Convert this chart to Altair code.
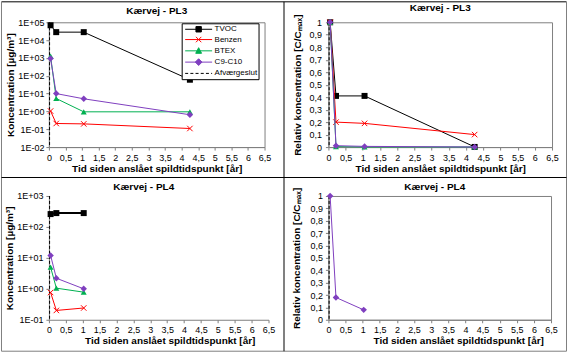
import altair as alt
import pandas as pd

# ---------------- data ----------------
series_names = ["TVOC", "Benzen", "BTEX", "C9-C10"]
series_colors = ["#000000", "#ff0000", "#00b050", "#7f3fbf"]
guide_name = "Afværgeslut"

pl3_time = [0.05, 0.22, 1.05, 4.25]
pl3_tvoc = [68000, 28000, 28000, 60]
pl3_benzen = [1.05, 0.21, 0.2, 0.11]
pl3_btex = [1250, 5.3, 0.95, 0.95]
pl3_c9c10 = [930, 10, 5.1, 0.65]

pl3_rel_tvoc = [1.0, 0.41, 0.41, 0.001]
pl3_rel_benzen = [1.0, 0.2, 0.19, 0.1]
pl3_rel_btex = [1.0, 0.004, 0.0008, 0.0008]
pl3_rel_c9c10 = [1.0, 0.011, 0.0055, 0.0007]

pl4_time = [0.05, 0.22, 1.03]
pl4_tvoc = [260, 280, 280]
pl4_benzen = [0.76, 0.2, 0.24]
pl4_btex = [5.0, 1.05, 0.78]
pl4_c9c10 = [12, 2.2, 1.0]
pl4_rel_c9c10 = [1.0, 0.18, 0.08]

afvaerge_time = [0.02]

x_tick_values = [0, 0.5, 1, 1.5, 2, 2.5, 3, 3.5, 4, 4.5, 5, 5.5, 6, 6.5]
log_ticks_pl3 = [0.01, 0.1, 1, 10, 100, 1000, 10000, 100000]
log_ticks_pl4 = [0.1, 1, 10, 100, 1000]
rel_ticks = [0, 0.1, 0.2, 0.3, 0.4, 0.5, 0.6, 0.7, 0.8, 0.9, 1]

FONT = "Liberation Sans"
X_TITLE = "Tid siden anslået spildtidspunkt [år]"
CONC_TITLE = "Koncentration [µg/m³]"
REL_TITLE = "Relativ koncentration [C/Cₘₐₓ]"
LOG_EXPR = ("'1E' + (datum.value >= 1 ? '+' : '-') + "
            "(abs(round(log(datum.value) / LN10)) < 10 ? '0' : '') + "
            "abs(round(log(datum.value) / LN10))")
COMMA_EXPR = "replace(toString(datum.value), '.', ',')"
REL_EXPR = "replace(format(datum.value, '.1~f'), '.', ',')"


def long_df(time, cols):
    rows = []
    for name, vals in cols:
        for t, v in zip(time, vals):
            rows.append({"t": t, "v": v, "s": name})
    return pd.DataFrame(rows)


markers = {
    "TVOC": dict(shape="square", filled=True, size=36),
    "Benzen": dict(shape="M-1,-1L1,1M-1,1L1,-1", filled=False, size=30, strokeWidth=1),
    "BTEX": dict(shape="triangle-up", filled=True, size=36),
    "C9-C10": dict(shape="diamond", filled=True, size=42),
}


def x_enc(title_x=None):
    kw = dict(values=x_tick_values, labelExpr=COMMA_EXPR, title=X_TITLE,
              labelFlush=False, labelOverlap=False, labelPadding=3, titlePadding=1)
    if title_x is not None:
        kw["titleX"] = title_x
    return alt.X("t:Q", scale=alt.Scale(domain=[0, 6.5], nice=False, zero=False),
                 axis=alt.Axis(**kw))


def y_log(domain, ticks, lab_pad=2, title_pad=2):
    return alt.Y("v:Q", scale=alt.Scale(type="log", domain=domain, nice=False),
                 axis=alt.Axis(values=ticks, labelExpr=LOG_EXPR, title=CONC_TITLE,
                               labelPadding=lab_pad, titlePadding=title_pad,
                               labelOverlap=False))


def y_rel(lab_pad=4, title_pad=6):
    return alt.Y("v:Q", scale=alt.Scale(domain=[0, 1], nice=False, zero=False),
                 axis=alt.Axis(values=rel_ticks, labelExpr=REL_EXPR, title=REL_TITLE,
                               labelPadding=lab_pad, titlePadding=title_pad,
                               labelOverlap=False))


def series_layers(df, names, xe, ye, widths=None):
    layers = []
    for name in names:
        c = series_colors[series_names.index(name)]
        lw = (widths or {}).get(name, 1)
        sub = alt.Chart(df).transform_filter(alt.datum.s == name)
        layers.append(sub.mark_line(color=c, strokeWidth=lw).encode(x=xe, y=ye))
        layers.append(sub.mark_point(color=c, opacity=1, **markers[name]).encode(x=xe, y=ye))
    return layers


def guide_rule(xe):
    return alt.Chart(pd.DataFrame({"t": afvaerge_time})).mark_rule(
        color="#000000", strokeDash=[3, 2], strokeWidth=1).encode(x=xe)


# legend symbol paths (unit = 4.5 px for symbolSize 81)
LINE = "M-0.556,0L5.444,0"
THICK = "M-0.556,-0.25L5.444,-0.25L5.444,0.25L-0.556,0.25Z"
MK = {
    "TVOC": "M1.844,-0.6L3.044,-0.6L3.044,0.6L1.844,0.6Z",
    "Benzen": "M1.844,-0.6L3.044,0.6M1.844,0.6L3.044,-0.6",
    "BTEX": "M2.444,-0.7L3.094,0.55L1.794,0.55Z",
    "C9-C10": "M2.444,-0.75L3.194,0L2.444,0.75L1.694,0Z",
}
DASH = "M-0.556,0L0.111,0M0.6,0L1.267,0M1.756,0L2.422,0M2.911,0L3.578,0M4.067,0L4.733,0M5.222,0L5.444,0"


def legend_layer(lx, ly, thick_tvoc=False, row_pad=0.3):
    names = series_names + [guide_name]
    paths = []
    for n in series_names:
        base = THICK if (thick_tvoc and n == "TVOC") else LINE
        paths.append(base + MK[n])
    paths.append(DASH)
    cols = series_colors + ["#000000"]
    leg = alt.Legend(title=None, orient="none", legendX=lx, legendY=ly, padding=1,
                     rowPadding=row_pad, labelOffset=22, labelFontSize=8, labelFont=FONT,
                     symbolSize=81, symbolStrokeWidth=1, symbolOpacity=1,
                     strokeColor="#000000", fillColor="#ffffff")
    return alt.Chart(alt.Data(values=[{"s": n} for n in names])).transform_filter(
        "false").mark_point(filled=True, opacity=1).encode(
        shape=alt.Shape("s:N", scale=alt.Scale(domain=names, range=paths), legend=leg),
        fill=alt.Fill("s:N", scale=alt.Scale(domain=names, range=cols), legend=leg),
        stroke=alt.Stroke("s:N", scale=alt.Scale(domain=names, range=cols), legend=leg),
    )


def rule_v(x, y1, y2, color):
    return alt.Chart(alt.Data(values=[{}])).mark_rule(color=color, strokeWidth=1).encode(
        x=alt.value(x), y=alt.value(y1), y2=alt.value(y2))


def rule_h(x1, x2, y, color):
    return alt.Chart(alt.Data(values=[{}])).mark_rule(color=color, strokeWidth=1).encode(
        x=alt.value(x1), x2=alt.value(x2), y=alt.value(y))


GRAY = "#808080"
# panel frames, drawn from an untitled helper cell (origin at x=48, y=369)
OX, OY = 48, 369
deco = alt.layer(
    rule_h(0.5 - OX, 566.5 - OX, 0.5 - OY, "#000000"),
    rule_h(0.5 - OX, 566.5 - OX, 350.5 - OY, GRAY),
    rule_v(0.5 - OX, 0.5 - OY, 350.5 - OY, GRAY),
    rule_v(566.5 - OX, 0.5 - OY, 350.5 - OY, GRAY),
    rule_v(283.5 - OX, 0.5 - OY, 350.5 - OY, "#000000"),
    rule_h(0.5 - OX, 566.5 - OX, 176.5 - OY, "#000000"),
).properties(width=1, height=1)

# ---------------- panels ----------------
df3 = long_df(pl3_time, [("TVOC", pl3_tvoc), ("Benzen", pl3_benzen),
                         ("BTEX", pl3_btex), ("C9-C10", pl3_c9c10)])
df3r = long_df(pl3_time, [("TVOC", pl3_rel_tvoc), ("Benzen", pl3_rel_benzen),
                          ("BTEX", pl3_rel_btex), ("C9-C10", pl3_rel_c9c10)])
df4 = long_df(pl4_time, [("TVOC", pl4_tvoc), ("Benzen", pl4_benzen),
                         ("BTEX", pl4_btex), ("C9-C10", pl4_c9c10)])
df4r = long_df(pl4_time, [("C9-C10", pl4_rel_c9c10)])

xe_tl = x_enc()
ye_tl = y_log([0.01, 100000], log_ticks_pl3)
tl = alt.layer(
    guide_rule(xe_tl),
    *series_layers(df3, series_names, xe_tl, ye_tl),
    legend_layer(133, 1),
).properties(width=216, height=125,
             title=alt.TitleParams("Kærvej - PL3", offset=2),
             view=alt.ViewBackground(stroke=GRAY))

xe_tr = x_enc()
ye_tr = y_rel()
tr = alt.layer(
    guide_rule(xe_tr),
    *series_layers(df3r, series_names, xe_tr, ye_tr),
).properties(width=224, height=125,
             title=alt.TitleParams("Kærvej - PL3", offset=1),
             view=alt.ViewBackground(stroke=GRAY))

xe_bl = x_enc(title_x=121)
ye_bl = y_log([0.1, 1000], log_ticks_pl4, lab_pad=3, title_pad=2)
bl = alt.layer(
    guide_rule(xe_bl),
    *series_layers(df4, series_names, xe_bl, ye_bl, widths={"TVOC": 2}),
    legend_layer(140, 3, thick_tvoc=True, row_pad=0),
).properties(width=220, height=124,
             title=alt.TitleParams("Kærvej - PL4", offset=0, dx=-15))

xe_br = x_enc(title_x=130)
ye_br = y_rel(lab_pad=3, title_pad=8)
br = alt.layer(
    guide_rule(xe_br),
    *series_layers(df4r, ["C9-C10"], xe_br, ye_br),
).properties(width=223, height=124,
             title=alt.TitleParams("Kærvej - PL4", offset=-5, dx=-5),
             view=alt.ViewBackground(stroke=GRAY))

chart = alt.concat(
    tl, tr, bl, br, deco, columns=2, bounds="flush", align="all",
    spacing={"row": 49, "column": 56},
).properties(
    padding=0, background="#ffffff"
).configure_view(stroke="transparent").configure_axis(
    labelFont=FONT, titleFont=FONT, labelFontSize=9, titleFontSize=10,
    titleFontWeight="bold", labelColor="#000000", titleColor="#000000",
    domainColor=GRAY, tickColor=GRAY, tickSize=3, grid=False
).configure_title(font=FONT, fontSize=10, fontWeight="bold", color="#000000",
                  anchor="middle").configure_legend(labelFont=FONT)

chart.save("out.html", embed_options={"renderer": "svg", "actions": False})
